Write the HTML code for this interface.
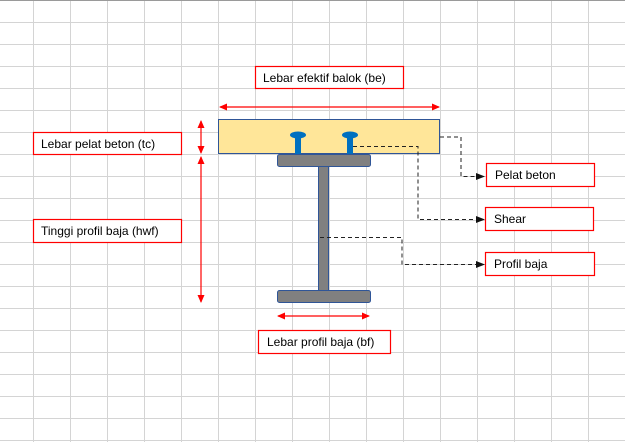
<!DOCTYPE html>
<html><head><style>
html,body{margin:0;padding:0;background:#fff;}
svg{display:block;font-family:"Liberation Sans",Arial,sans-serif;}
</style></head><body>
<svg width="625" height="442" viewBox="0 0 625 442" xmlns="http://www.w3.org/2000/svg">
<defs>
<pattern id="g" x="33" y="22" width="37" height="22" patternUnits="userSpaceOnUse">
<path d="M0.5 0 V22 M0 0.5 H37" stroke="#d4d4d4" stroke-width="1" fill="none"/>
</pattern>
<marker id="ra" markerWidth="8" markerHeight="8" refX="7" refY="4" orient="auto-start-reverse" markerUnits="userSpaceOnUse"><path d="M0,0.5 L8,4 L0,7.5z" fill="#f00"/></marker>
<marker id="ka" markerWidth="9" markerHeight="8" refX="8" refY="4" orient="auto" markerUnits="userSpaceOnUse"><path d="M0,0.5 L9,4 L0,7.5z" fill="#111"/></marker>
</defs>
<rect x="0" y="0" width="625" height="442" fill="url(#g)"/>
<line x1="0" y1="0.5" x2="625" y2="0.5" stroke="#9a9a9a"/>

<!-- slab -->
<rect x="218.5" y="119.5" width="221" height="34" fill="#ffe699" stroke="#2f5597"/>
<!-- studs -->
<rect x="295" y="137" width="6" height="17" fill="#0070c0"/>
<ellipse cx="298" cy="135" rx="8" ry="3.5" fill="#0070c0"/>
<rect x="347" y="137" width="6" height="17" fill="#0070c0"/>
<ellipse cx="350" cy="135" rx="8" ry="3.5" fill="#0070c0"/>
<!-- steel -->
<rect x="318.5" y="166" width="10" height="126" fill="#808080" stroke="#2f5597"/>
<rect x="277.5" y="154.5" width="93" height="12" rx="2" fill="#808080" stroke="#2f5597"/>
<rect x="277.5" y="290.5" width="93" height="12" rx="2" fill="#808080" stroke="#2f5597"/>

<!-- red dimension arrows -->
<line x1="220" y1="107" x2="439" y2="107" stroke="#f00" stroke-width="1.2" marker-start="url(#ra)" marker-end="url(#ra)"/>
<line x1="201" y1="121" x2="201" y2="153" stroke="#f00" stroke-width="1.2" marker-start="url(#ra)" marker-end="url(#ra)"/>
<line x1="201" y1="157" x2="201" y2="302" stroke="#f00" stroke-width="1.2" marker-start="url(#ra)" marker-end="url(#ra)"/>
<line x1="278" y1="316" x2="369" y2="316" stroke="#f00" stroke-width="1.2" marker-start="url(#ra)" marker-end="url(#ra)"/>

<!-- dashed leaders -->
<g fill="none" stroke="#222" stroke-width="1" stroke-dasharray="4,3">
<polyline points="440,137 461,137 461,176.5 484,176.5" marker-end="url(#ka)"/>
<polyline points="353,146.5 418,146.5 418,219.5 484,219.5" marker-end="url(#ka)"/>
<polyline points="320,237.5 402,237.5 402,264.5 484,264.5" marker-end="url(#ka)"/>
</g>

<!-- labels -->
<g fill="#fff" stroke="#f00" stroke-width="1.2">
<rect x="255.5" y="66.5" width="148" height="22"/>
<rect x="33.5" y="132.5" width="148" height="22"/>
<rect x="33.5" y="219.5" width="148" height="23"/>
<rect x="486.5" y="163.5" width="108" height="23"/>
<rect x="485.5" y="207.5" width="108" height="23"/>
<rect x="485.5" y="252.5" width="109" height="23"/>
<rect x="258.5" y="330.5" width="132" height="23"/>
</g>
<g font-size="12" fill="#000">
<text x="263" y="82">Lebar efektif balok (be)</text>
<text x="41" y="148">Lebar pelat beton (tc)</text>
<text x="41" y="235">Tinggi profil baja (hwf)</text>
<text x="495" y="179">Pelat beton</text>
<text x="494" y="223">Shear</text>
<text x="494" y="268">Profil baja</text>
<text x="267" y="346">Lebar profil baja (bf)</text>
</g>
</svg>
</body></html>
